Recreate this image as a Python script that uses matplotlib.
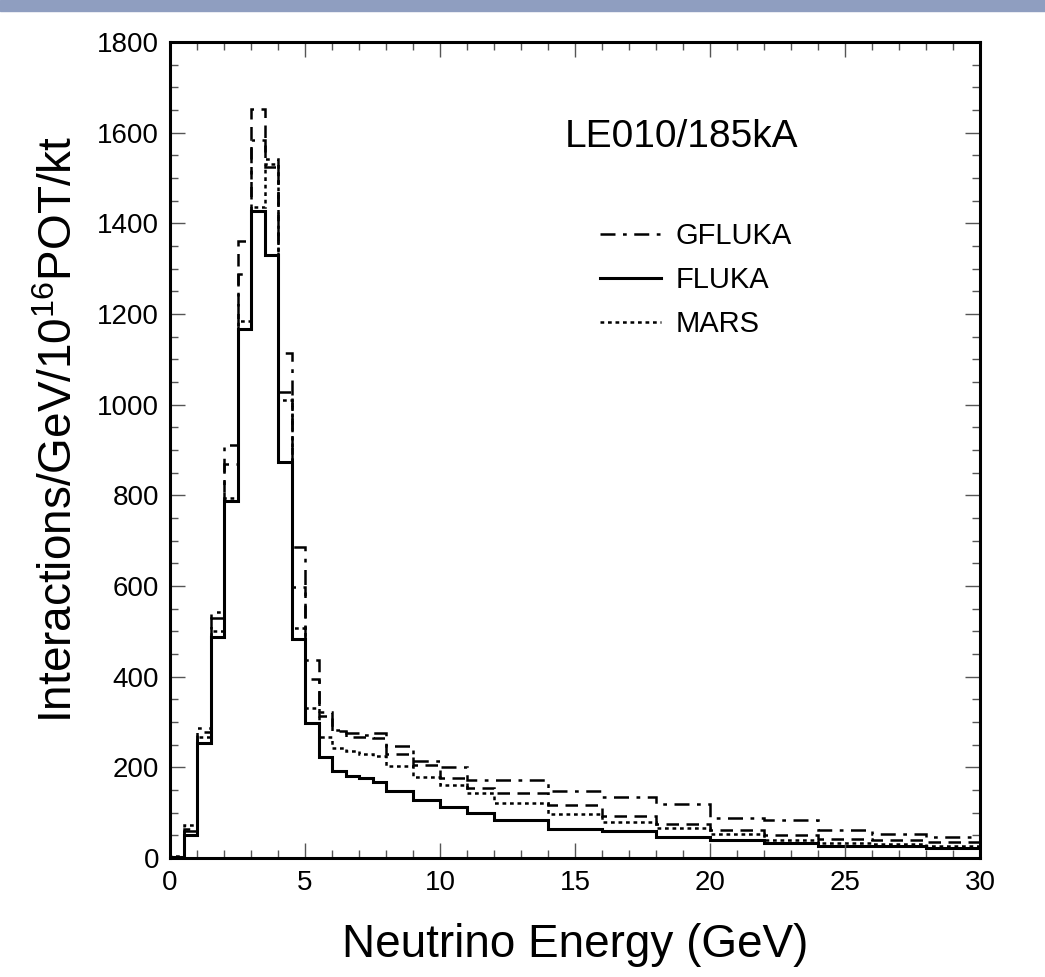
import numpy as np
import matplotlib
matplotlib.use("Agg")
import matplotlib.pyplot as plt
from matplotlib.patches import Rectangle

# ---- data -------------------------------------------------------------
bin_edges = [0, 0.5, 1.0, 1.5, 2.0, 2.5, 3.0, 3.5, 4.0, 4.5, 5.0, 5.5, 6.0,
             6.5, 7.0, 7.5, 8.0, 9.0, 10.0, 11.0, 12.0, 14.0, 16.0, 18.0,
             20.0, 22.0, 24.0, 26.0, 28.0, 30.0]

gfluka = [3, 65, 287, 543, 911, 1288, 1584, 1543, 1113, 687, 437, 321, 282,
          275, 272, 275, 246, 215, 200, 172, 172, 148, 135, 119, 88, 84,
          62, 54, 47]
fluka = [3, 51, 254, 487, 788, 1167, 1427, 1330, 874, 482, 298, 222, 193,
         181, 176, 168, 148, 128, 113, 99, 84, 65, 60, 46, 40, 34, 27, 26,
         21]
mars = [5, 72, 268, 501, 794, 1185, 1437, 1530, 1010, 507, 330, 266, 242,
        235, 229, 225, 204, 179, 161, 143, 121, 96, 80, 67, 54, 40, 34, 31,
        26]
other = [3, 60, 279, 529, 870, 1362, 1652, 1525, 1029, 598, 394, 314, 281,
         268, 266, 264, 229, 205, 176, 154, 143, 118, 93, 74, 62, 51, 41,
         40, 36]

series_labels = ["GFLUKA", "FLUKA", "MARS"]
annotation = "LE010/185kA"
x_label = "Neutrino Energy (GeV)"
y_label = "Interactions/GeV/10$^{16}$POT/kt"

# ---- figure -----------------------------------------------------------
plt.rcParams["font.family"] = ["Liberation Sans", "DejaVu Sans"]
plt.rcParams["mathtext.default"] = "regular"

fig = plt.figure(figsize=(10.45, 9.77), dpi=100)
fig.patches.append(Rectangle((0, 1 - 11 / 977), 1, 11 / 977,
                             transform=fig.transFigure, color="#8f9ec0",
                             zorder=0))
ax = fig.add_axes([170 / 1045, 1 - 858 / 977, 810 / 1045, 816 / 977])

h_other = ax.stairs(other, bin_edges, color="black", lw=1.8,
                    linestyle=(0, (5, 3)), label="_nolegend_")
h_mars = ax.stairs(mars, bin_edges, color="black", lw=1.8,
                   linestyle=(0, (1.5, 1.5)), label=series_labels[2])
h_gfluka = ax.stairs(gfluka, bin_edges, color="black", lw=1.8,
                     linestyle=(0, (6, 3, 1.5, 3)), label=series_labels[0])
h_fluka = ax.stairs(fluka, bin_edges, color="black", lw=2.2,
                    linestyle="-", label=series_labels[1])

ax.set_xlim(0, 30)
ax.set_ylim(0, 1800)
ax.set_xticks(np.arange(0, 31, 5))
ax.set_xticks(np.arange(0, 31, 1), minor=True)
ax.set_yticks(np.arange(0, 1801, 200))
ax.set_yticks(np.arange(0, 1801, 50), minor=True)
ax.tick_params(which="both", direction="in", top=True, right=True,
               labelsize=20, width=1.0, color="#555555")
ax.tick_params(which="major", length=11, pad=8)
ax.tick_params(which="minor", length=5.5)
ax.tick_params(axis="x", which="major", pad=9)
for sp in ax.spines.values():
    sp.set_linewidth(2.2)

ax.set_xlabel(x_label, fontsize=33, labelpad=19)
ax.set_ylabel(y_label, fontsize=33)
ax.yaxis.set_label_coords(-0.109, 0.525)

ax.text((565 - 170) / 810, (858 - 137) / 816, annotation,
        transform=ax.transAxes, fontsize=28, ha="left", va="center")

leg = ax.legend(handles=[h_gfluka, h_fluka, h_mars],
                labels=series_labels, loc="upper left",
                bbox_to_anchor=((600 - 170) / 810, (858 - 222) / 816),
                frameon=False, fontsize=21, handlelength=2.1,
                handletextpad=0.5, labelspacing=0.55, borderpad=0,
                borderaxespad=0)

fig.savefig("out.png", dpi=100)
